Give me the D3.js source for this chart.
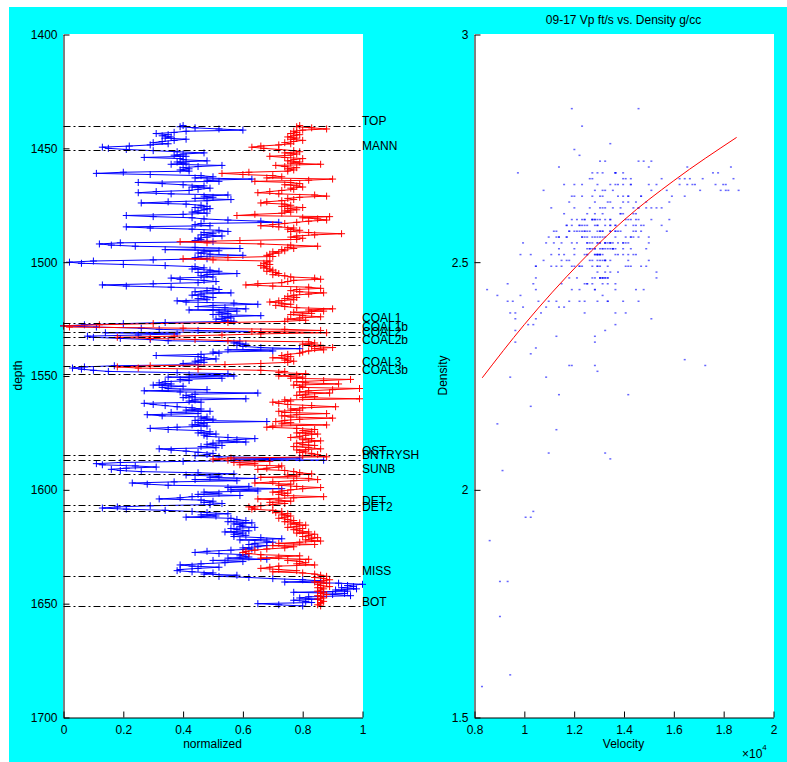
<!DOCTYPE html>
<html lang="en">
<head>
	<meta charset="utf-8">
	<title>09-17 log: normalized Vp / density and crossplot</title>
	<script type="text/javascript" src="https://d3js.org/d3.v7.min.js"></script>
	<style>
		body { margin: 0; background: #fff; }
		text { font-family: "Liberation Sans", Arial, Helvetica, sans-serif; }
	</style>
</head>
<body>
	<script type="text/javascript">

        // Log samples every half foot, starting at the TOP pick
        var depthTop = 1440;
        var sampleStep = 0.5;

        // Normalized P velocity (blue), one row = 10 ft
        var vpNorm = [
            0.40, 0.39, 0.44, 0.52, 0.60, 0.41, 0.37, 0.31, 0.35, 0.33, 0.36, 0.34, 0.41, 0.37, 0.33, 0.30, 0.35, 0.29, 0.22, 0.13, // 1440
            0.15, 0.21, 0.30, 0.38, 0.47, 0.40, 0.37, 0.41, 0.27, 0.39, 0.40, 0.48, 0.38, 0.41, 0.36, 0.53, 0.45, 0.40, 0.42, 0.39, // 1450
            0.42, 0.20, 0.11, 0.29, 0.46, 0.50, 0.44, 0.63, 0.48, 0.52, 0.25, 0.33, 0.40, 0.47, 0.43, 0.49, 0.45, 0.42, 0.31, 0.25, // 1460
            0.36, 0.55, 0.47, 0.50, 0.44, 0.56, 0.48, 0.35, 0.26, 0.41, 0.46, 0.48, 0.44, 0.49, 0.47, 0.45, 0.43, 0.48, 0.40, 0.21, // 1470
            0.30, 0.43, 0.47, 0.55, 0.66, 0.72, 0.46, 0.44, 0.49, 0.21, 0.29, 0.43, 0.52, 0.55, 0.47, 0.50, 0.46, 0.53, 0.48, 0.45, // 1480
            0.46, 0.44, 0.50, 0.19, 0.12, 0.16, 0.24, 0.44, 0.59, 0.34, 0.52, 0.47, 0.45, 0.49, 0.60, 0.46, 0.44, 0.48, 0.30, 0.10, // 1490
            0.02, 0.06, 0.20, 0.34, 0.44, 0.47, 0.43, 0.49, 0.52, 0.45, 0.58, 0.48, 0.46, 0.50, 0.36, 0.39, 0.47, 0.51, 0.45, 0.30, // 1500
            0.13, 0.21, 0.36, 0.50, 0.52, 0.48, 0.44, 0.56, 0.46, 0.43, 0.47, 0.50, 0.45, 0.48, 0.38, 0.41, 0.57, 0.65, 0.50, 0.45, // 1510
            0.54, 0.61, 0.42, 0.58, 0.52, 0.55, 0.50, 0.66, 0.53, 0.56, 0.51, 0.54, 0.57, 0.34, 0.20, 0.07, 0.00, 0.11, 0.26, 0.32, // 1520
            0.45, 0.66, 0.14, 0.38, 0.25, 0.08, 0.10, 0.19, 0.29, 0.35, 0.59, 0.57, 0.61, 0.58, 0.60, 0.66, 0.79, 0.55, 0.70, 0.50, // 1530
            0.52, 0.46, 0.31, 0.45, 0.47, 0.51, 0.46, 0.44, 0.47, 0.40, 0.45, 0.17, 0.07, 0.03, 0.06, 0.10, 0.15, 0.38, 0.55, 0.42, // 1540
            0.57, 0.35, 0.53, 0.39, 0.42, 0.34, 0.32, 0.36, 0.30, 0.40, 0.33, 0.35, 0.48, 0.27, 0.39, 0.65, 0.44, 0.41, 0.43, 0.40, // 1550
            0.61, 0.44, 0.42, 0.46, 0.27, 0.30, 0.34, 0.38, 0.43, 0.46, 0.41, 0.49, 0.36, 0.45, 0.28, 0.33, 0.48, 0.46, 0.50, 0.44, // 1560
            0.68, 0.45, 0.47, 0.43, 0.48, 0.38, 0.29, 0.35, 0.46, 0.49, 0.45, 0.51, 0.47, 0.48, 0.55, 0.64, 0.58, 0.52, 0.61, 0.50, // 1570
            0.48, 0.53, 0.46, 0.51, 0.32, 0.36, 0.41, 0.45, 0.50, 0.48, 0.44, 0.52, 0.79, 0.57, 0.87, 0.40, 0.19, 0.11, 0.13, 0.24, // 1580
            0.31, 0.21, 0.16, 0.19, 0.26, 0.45, 0.57, 0.41, 0.52, 0.49, 0.64, 0.44, 0.58, 0.37, 0.23, 0.28, 0.35, 0.62, 0.55, 0.73, // 1590
            0.56, 0.65, 0.47, 0.52, 0.45, 0.59, 0.43, 0.39, 0.32, 0.46, 0.50, 0.47, 0.53, 0.49, 0.29, 0.18, 0.13, 0.21, 0.34, 0.43, // 1600
            0.48, 0.55, 0.46, 0.51, 0.41, 0.56, 0.58, 0.61, 0.55, 0.63, 0.57, 0.60, 0.59, 0.64, 0.56, 0.58, 0.62, 0.54, 0.60, 0.57, // 1610
            0.61, 0.57, 0.66, 0.73, 0.59, 0.68, 0.70, 0.64, 0.62, 0.68, 0.65, 0.60, 0.63, 0.56, 0.48, 0.44, 0.52, 0.61, 0.59, 0.62, // 1620
            0.55, 0.68, 0.50, 0.60, 0.54, 0.46, 0.39, 0.43, 0.52, 0.45, 0.39, 0.38, 0.43, 0.50, 0.47, 0.58, 0.52, 0.62, 0.70, 0.80, // 1630
            0.86, 0.74, 0.92, 1.00, 0.95, 0.97, 0.93, 0.98, 0.91, 0.95, 0.77, 0.94, 0.90, 0.96, 0.82, 0.79, 0.85, 0.77, 0.81, 0.83, // 1640
            0.65, 0.72, 0.80                                                                                                    // 1650
        ];

        // Normalized bulk density (red)
        var rhoNorm = [
            0.79, 0.78, 0.83, 0.88, 0.80, 0.77, 0.78, 0.76, 0.79, 0.77, 0.75, 0.78, 0.76, 0.80, 0.77, 0.74, 0.76, 0.72, 0.66, 0.63, // 1440
            0.67, 0.72, 0.77, 0.79, 0.74, 0.78, 0.76, 0.69, 0.74, 0.80, 0.77, 0.75, 0.79, 0.76, 0.86, 0.71, 0.74, 0.78, 0.75, 0.77, // 1450
            0.75, 0.62, 0.53, 0.60, 0.70, 0.73, 0.68, 0.90, 0.82, 0.64, 0.76, 0.79, 0.74, 0.78, 0.80, 0.76, 0.77, 0.73, 0.69, 0.65, // 1460
            0.72, 0.84, 0.88, 0.79, 0.75, 0.77, 0.73, 0.68, 0.66, 0.74, 0.76, 0.73, 0.80, 0.75, 0.78, 0.74, 0.76, 0.73, 0.64, 0.58, // 1470
            0.89, 0.80, 0.85, 0.88, 0.82, 0.78, 0.74, 0.70, 0.66, 0.72, 0.77, 0.75, 0.79, 0.76, 0.82, 0.93, 0.84, 0.78, 0.76, 0.80, // 1480
            0.78, 0.59, 0.39, 0.48, 0.66, 0.76, 0.85, 0.75, 0.77, 0.73, 0.74, 0.70, 0.72, 0.69, 0.68, 0.70, 0.55, 0.40, 0.50, 0.69, // 1490
            0.68, 0.67, 0.69, 0.66, 0.68, 0.67, 0.69, 0.70, 0.68, 0.71, 0.72, 0.70, 0.74, 0.76, 0.84, 0.86, 0.77, 0.75, 0.73, 0.65, // 1500
            0.61, 0.70, 0.82, 0.86, 0.78, 0.76, 0.79, 0.87, 0.82, 0.77, 0.75, 0.78, 0.74, 0.77, 0.72, 0.69, 0.73, 0.76, 0.71, 0.74, // 1510
            0.78, 0.90, 0.82, 0.87, 0.77, 0.83, 0.76, 0.80, 0.86, 0.79, 0.75, 0.81, 0.74, 0.55, 0.30, 0.12, 0.00, 0.02, 0.40, 0.74, // 1520
            0.86, 0.63, 0.88, 0.66, 0.53, 0.37, 0.18, 0.29, 0.44, 0.55, 0.82, 0.84, 0.80, 0.86, 0.83, 0.90, 0.84, 0.87, 0.82, 0.80, // 1530
            0.79, 0.75, 0.73, 0.76, 0.70, 0.75, 0.74, 0.77, 0.75, 0.66, 0.54, 0.29, 0.18, 0.25, 0.45, 0.66, 0.74, 0.72, 0.81, 0.78, // 1540
            0.72, 0.80, 0.76, 0.96, 0.87, 0.78, 0.81, 0.92, 0.77, 0.80, 0.79, 0.99, 0.90, 0.82, 0.79, 0.89, 0.81, 0.78, 0.84, 0.80, // 1550
            0.99, 0.74, 0.76, 0.70, 0.72, 0.75, 0.83, 0.91, 0.80, 0.76, 0.79, 0.72, 0.74, 0.88, 0.78, 0.73, 0.76, 0.90, 0.79, 0.74, // 1560
            0.71, 0.76, 0.73, 0.88, 0.70, 0.68, 0.78, 0.84, 0.80, 0.83, 0.78, 0.85, 0.81, 0.79, 0.76, 0.83, 0.80, 0.86, 0.82, 0.78, // 1570
            0.80, 0.84, 0.77, 0.82, 0.86, 0.78, 0.81, 0.79, 0.83, 0.85, 0.80, 0.88, 0.56, 0.50, 0.55, 0.69, 0.57, 0.64, 0.59, 0.73, // 1580
            0.72, 0.68, 0.65, 0.74, 0.77, 0.79, 0.83, 0.75, 0.78, 0.66, 0.82, 0.85, 0.77, 0.70, 0.64, 0.76, 0.72, 0.78, 0.86, 0.80, // 1590
            0.76, 0.73, 0.70, 0.75, 0.72, 0.74, 0.87, 0.77, 0.65, 0.72, 0.76, 0.69, 0.74, 0.70, 0.66, 0.62, 0.64, 0.63, 0.70, 0.73, // 1600
            0.71, 0.75, 0.73, 0.76, 0.74, 0.72, 0.75, 0.77, 0.74, 0.79, 0.76, 0.81, 0.78, 0.75, 0.80, 0.77, 0.79, 0.82, 0.78, 0.84, // 1610
            0.82, 0.80, 0.85, 0.83, 0.81, 0.86, 0.79, 0.72, 0.84, 0.70, 0.77, 0.74, 0.68, 0.64, 0.61, 0.60, 0.62, 0.66, 0.79, 0.72, // 1620
            0.66, 0.82, 0.75, 0.79, 0.81, 0.78, 0.84, 0.72, 0.69, 0.66, 0.72, 0.78, 0.70, 0.80, 0.84, 0.86, 0.88, 0.84, 0.87, 0.89, // 1630
            0.87, 0.84, 0.88, 0.85, 0.86, 0.89, 0.85, 0.87, 0.86, 0.85, 0.87, 0.86, 0.88, 0.85, 0.86, 0.87, 0.85, 0.86, 0.87, 0.86, // 1640
            0.86, 0.85, 0.86                                                                                                    // 1650
        ];

        // Formation picks
        var topNames = ["TOP", "MANN", "COAL1", "COAL1b", "COAL2", "COAL2b", "COAL3", "COAL3b",
                        "OST", "BNTRYSH", "SUNB", "DET", "DET2", "MISS", "BOT"];
        var topDepths = [1440, 1450.9, 1526.6, 1530.5, 1532.7, 1536.2, 1545.8, 1549.3,
                         1584.9, 1586.8, 1593.0, 1606.7, 1609.5, 1637.8, 1651.1];

        // Ranges used for the normalization (ft/s, g/cc)
        var vpRange = [8300, 18600];
        var rhoRange = [1.568, 2.85];

        // Fitted density trend
        var fitVelocity = [8310, 10000, 12250, 14000, 16000, 18520];
        var fitDensity = [2.246, 2.363, 2.5, 2.5925, 2.679, 2.774];

        var depthTicks = [1400, 1450, 1500, 1550, 1600, 1650, 1700];
        var normTicks = [0, 0.2, 0.4, 0.6, 0.8, 1];
        var velTicks = [8000, 10000, 12000, 14000, 16000, 18000, 20000];
        var densTicks = [1.5, 2, 2.5, 3];

        var samples = vpNorm.map(function(v, i) {
            return {
                depth: depthTop + i * sampleStep,
                vp: v,
                rho: rhoNorm[i],
                velocity: vpRange[0] + v * (vpRange[1] - vpRange[0]),
                density: rhoRange[0] + rhoNorm[i] * (rhoRange[1] - rhoRange[0])
            };
        });

        var width = 787, height = 762;

        var svg = d3.select("body")
            .append("svg")
            .attr("width", width)
            .attr("height", height);

        svg.append("rect")
            .attr("x", 9).attr("y", 7)
            .attr("width", width - 9).attr("height", height - 7)
            .attr("fill", "#00ffff");

        var plus = "M-3.5,0H3.5M0,-3.5V3.5";

        function styleAxis(g) {
            g.select(".domain").attr("stroke", "#000");
            g.selectAll(".tick line").attr("stroke", "#000");
            g.selectAll(".tick text")
                .attr("fill", "#000")
                .attr("font-size", 12)
                .attr("font-family", "Liberation Sans, Arial, sans-serif");
        }

        // ---------- left panel: normalized logs vs depth ----------
        var x = d3.scaleLinear().domain([0, 1]).range([63.5, 362.5]);
        var y = d3.scaleLinear().domain([1400, 1700]).range([34.5, 717.5]);

        var left = svg.append("g");

        left.append("rect")
            .attr("x", 63).attr("y", 34)
            .attr("width", 300).attr("height", 684)
            .attr("fill", "#fff");

        var series = [
            { key: "vp", color: "#0000ff" },
            { key: "rho", color: "#ff0000" }
        ];

        series.forEach(function(s) {
            var line = d3.line()
                .x(function(d) { return x(d[s.key]); })
                .y(function(d) { return y(d.depth); });

            left.append("path")
                .datum(samples)
                .attr("d", line)
                .attr("fill", "none")
                .attr("stroke", s.color)
                .attr("stroke-width", 1);

            left.selectAll(".mk-" + s.key)
                .data(samples)
                .enter()
                .append("path")
                .attr("class", "mk-" + s.key)
                .attr("d", plus)
                .attr("transform", function(d) {
                    return "translate(" + x(d[s.key]) + "," + y(d.depth) + ")";
                })
                .attr("stroke", s.color)
                .attr("stroke-width", 1);
        });

        // dash-dot pick lines and their names
        left.selectAll(".pick")
            .data(topDepths)
            .enter()
            .append("line")
            .attr("class", "pick")
            .attr("x1", x(0)).attr("x2", x(1))
            .attr("y1", function(d) { return Math.round(y(d)) + 0.5; })
            .attr("y2", function(d) { return Math.round(y(d)) + 0.5; })
            .attr("stroke", "#000")
            .attr("stroke-width", 1)
            .attr("stroke-dasharray", "7,3,2,3");

        left.selectAll(".pickname")
            .data(topNames)
            .enter()
            .append("text")
            .attr("class", "pickname")
            .attr("x", 362)
            .attr("y", function(d, i) { return y(topDepths[i]) - 0.5; })
            .attr("font-size", 12)
            .attr("fill", "#000")
            .text(function(d) { return d; });

        left.append("g")
            .attr("transform", "translate(0," + 717.5 + ")")
            .call(d3.axisBottom(x).tickValues(normTicks).tickSize(-6).tickSizeOuter(0)
                .tickPadding(8).tickFormat(d3.format("~g")))
            .call(styleAxis);

        left.append("g")
            .attr("transform", "translate(" + 63.5 + ",0)")
            .call(d3.axisLeft(y).tickValues(depthTicks).tickSize(-6).tickSizeOuter(0)
                .tickPadding(6).tickFormat(d3.format("d")))
            .call(styleAxis);

        left.append("text")
            .attr("x", 212.5).attr("y", 748)
            .attr("text-anchor", "middle")
            .attr("font-size", 12)
            .text("normalized");

        left.append("text")
            .attr("transform", "translate(22,375.5) rotate(-90)")
            .attr("text-anchor", "middle")
            .attr("font-size", 12)
            .text("depth");

        // ---------- right panel: velocity vs density crossplot ----------
        var vx = d3.scaleLinear().domain([8000, 20000]).range([474.5, 773.5]);
        var vy = d3.scaleLinear().domain([1.5, 3]).range([717.5, 34.5]);

        var right = svg.append("g");

        right.append("rect")
            .attr("x", 474).attr("y", 34)
            .attr("width", 300).attr("height", 684)
            .attr("fill", "#fff");

        right.selectAll(".dot")
            .data(samples)
            .enter()
            .append("rect")
            .attr("class", "dot")
            .attr("x", function(d) { return vx(d.velocity) - 1; })
            .attr("y", function(d) { return vy(d.density) - 0.75; })
            .attr("width", 2)
            .attr("height", 1.5)
            .attr("fill", "#0000ff")
            .attr("fill-opacity", 0.6);

        var fit = fitVelocity.map(function(v, i) { return [v, fitDensity[i]]; });

        right.append("path")
            .datum(fit)
            .attr("d", d3.line()
                .curve(d3.curveMonotoneX)
                .x(function(d) { return vx(d[0]); })
                .y(function(d) { return vy(d[1]); }))
            .attr("fill", "none")
            .attr("stroke", "#ff0000")
            .attr("stroke-width", 1);

        right.append("g")
            .attr("transform", "translate(0," + 717.5 + ")")
            .call(d3.axisBottom(vx).tickValues(velTicks).tickSize(-6).tickSizeOuter(0)
                .tickPadding(8).tickFormat(function(d) { return d3.format("~g")(d / 1e4); }))
            .call(styleAxis);

        right.append("g")
            .attr("transform", "translate(" + 474.5 + ",0)")
            .call(d3.axisLeft(vy).tickValues(densTicks).tickSize(-6).tickSizeOuter(0)
                .tickPadding(6).tickFormat(d3.format("~g")))
            .call(styleAxis);

        right.append("text")
            .attr("x", 623.5).attr("y", 24)
            .attr("text-anchor", "middle")
            .attr("font-size", 12)
            .text("09-17 Vp ft/s vs. Density g/cc");

        right.append("text")
            .attr("x", 623.5).attr("y", 748)
            .attr("text-anchor", "middle")
            .attr("font-size", 12)
            .text("Velocity");

        right.append("text")
            .attr("transform", "translate(447,375.5) rotate(-90)")
            .attr("text-anchor", "middle")
            .attr("font-size", 12)
            .text("Density");

        var expo = right.append("text")
            .attr("x", 742).attr("y", 758)
            .attr("font-size", 12);
        expo.append("tspan").text("\u00d710");
        expo.append("tspan").attr("dy", -8).attr("font-size", 8).text("4");

	</script>
</body>
</html>
